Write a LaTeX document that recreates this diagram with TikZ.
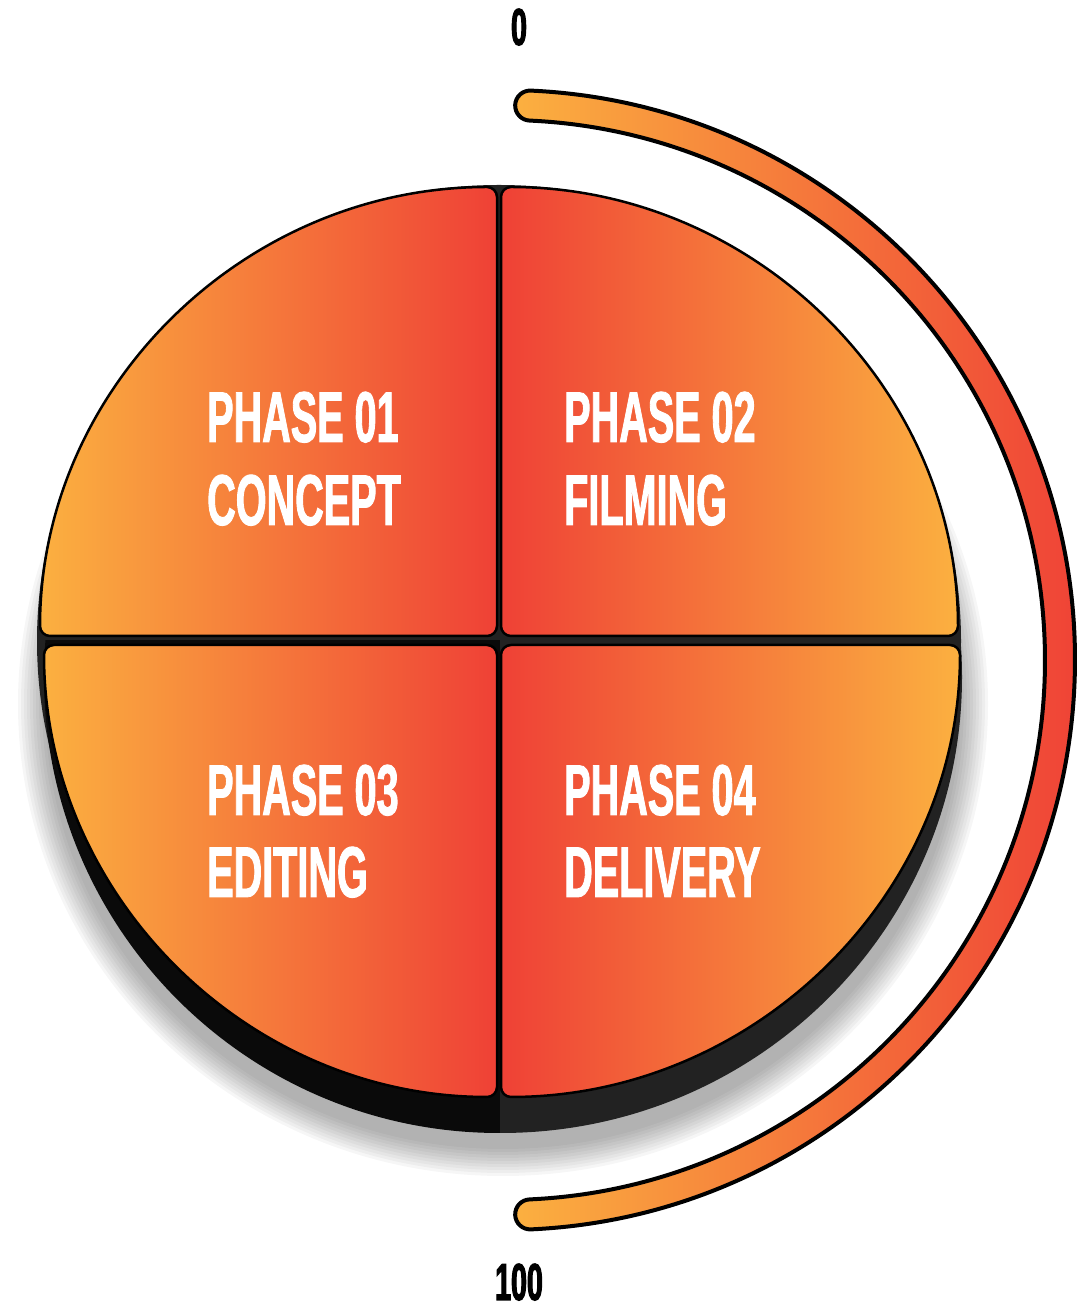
\documentclass[tikz,border=0pt]{standalone}
\usepackage{fontspec}
\newfontfamily\cond[FakeStretch=0.55,FakeBold=1.2]{Liberation Sans}
\newfontfamily\condnum[FakeStretch=0.55,FakeBold=2]{Liberation Sans}
\usetikzlibrary{calc}
\definecolor{orangeC}{RGB}{251,176,64}
\definecolor{redC}{RGB}{239,65,54}
\definecolor{darkC}{RGB}{34,34,34}
\definecolor{blackC}{RGB}{10,10,10}
\tikzset{
  phasetext/.style={text=white, font=\cond\bfseries\fontsize{72}{72}\selectfont, anchor=base west, inner sep=0pt},
  numtext/.style={text=black, font=\condnum\bfseries\fontsize{52}{52}\selectfont, anchor=base, inner sep=0pt},
  piece/.style={draw=black, line width=2.5pt, rounded corners=10pt},
  shadowring/.style={fill=black, opacity=0.035},
}
\begin{document}
\begin{tikzpicture}[x=1pt,y=1pt]
\useasboundingbox (0,0) rectangle (1077,1314);
% soft shadow
\foreach \i in {0,...,9}{
  \fill[shadowring] (503,610) ellipse [x radius=458+3*\i, y radius=445+3*\i];
}
% base disk (gaps)
\fill[darkC] (499,673) ellipse [x radius=462, y radius=456];
% extrusion
\begin{scope}
  \clip (0,0) rectangle (500,673);
  \fill[blackC] (499,637) ellipse [x radius=455, y radius=456];
\end{scope}
\begin{scope}
  \clip (500,0) rectangle (1077,673);
  \fill[darkC] (501,637) ellipse [x radius=461, y radius=456];
\end{scope}
% pieces
\shade[piece, left color=orangeC, right color=redC]
  (497,678) -- (497,1127) arc[start angle=90, end angle=180, x radius=457, y radius=449] -- cycle;
\shade[piece, left color=redC, right color=orangeC]
  (501,678) -- (958,678) arc[start angle=0, end angle=90, x radius=457, y radius=449] -- cycle;
\shade[piece, left color=orangeC, right color=redC]
  (497,669) -- (44,669) arc[start angle=180, end angle=270, x radius=453, y radius=452] -- cycle;
\shade[piece, left color=redC, right color=orangeC]
  (501,669) -- (501,217) arc[start angle=270, end angle=360, x radius=459, y radius=452] -- cycle;
% texts
\node[phasetext] (p1) at (207,872) {PHASE 01};
\node[phasetext] (c1) at (207,789) {CONCEPT};
\node[phasetext] (p2) at (564,872) {PHASE 02};
\node[phasetext] (c2) at (564,789) {FILMING};
\node[phasetext] (p3) at (207,499) {PHASE 03};
\node[phasetext] (c3) at (207,417) {EDITING};
\node[phasetext] (p4) at (564,499) {PHASE 04};
\node[phasetext] (c4) at (564,417) {DELIVERY};
% progress arc
\coordinate (C) at (505,654);
\shade[draw=black, line width=4pt, left color=orangeC, right color=redC]
  ($(C)+(87.4:570)$) arc[start angle=87.4, end angle=-87.4, radius=570]
  arc[start angle=-87.4, end angle=-267.4, radius=15]
  arc[start angle=-87.4, end angle=87.4, radius=540]
  arc[start angle=267.4, end angle=87.4, radius=15] -- cycle;
\node[numtext] (n0) at (519,1269) {0};
\node[numtext] (n100) at (519,14) {100};
\end{tikzpicture}
\end{document}
